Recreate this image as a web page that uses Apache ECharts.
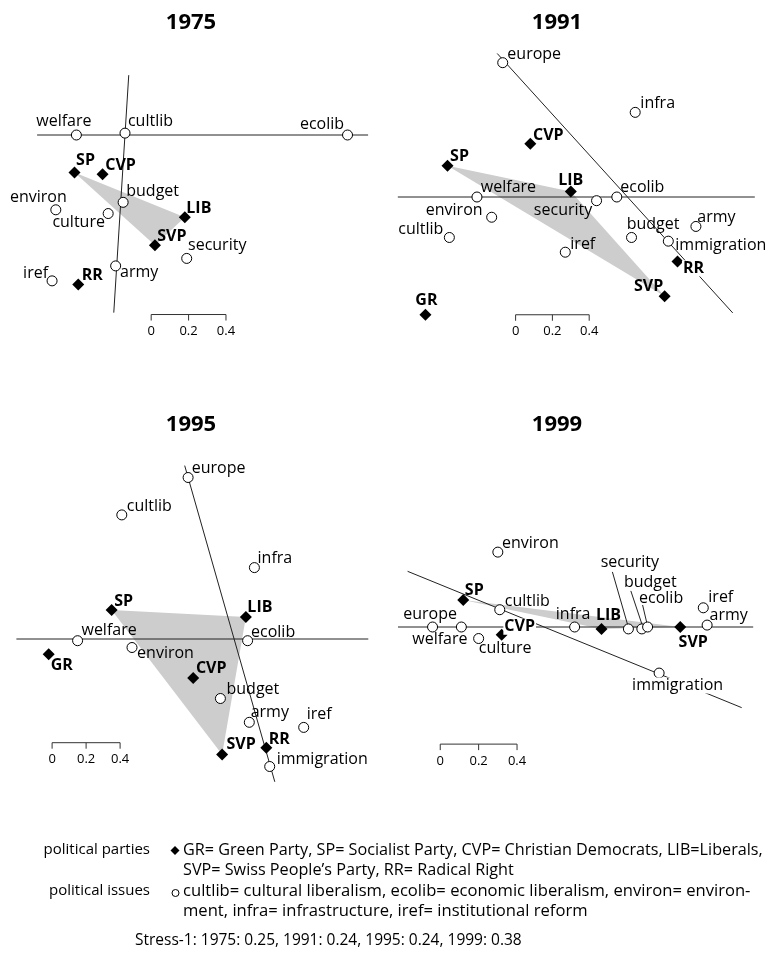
<!DOCTYPE html>
<html>
<head>
<meta charset="utf-8">
<title>Swiss party space 1975-1999</title>
<script src="https://cdn.jsdelivr.net/npm/echarts@6/dist/echarts.min.js"></script>
<style>
  html, body { margin: 0; padding: 0; background: #fff; }
  #chart { width: 771px; height: 956px; }
</style>
</head>
<body>
<div id="chart"></div>
<script>
// ---- data: MDS coordinates, in units of the scale bar ----
const years = ['1975', '1991', '1995', '1999']

const issues1975 = ['welfare', 'cultlib', 'ecolib', 'budget', 'environ', 'culture', 'security', 'army', 'iref']
const issueX1975 = [-0.26, 0.00, 1.19, -0.01, -0.37, -0.09, 0.33, -0.05, -0.39]
const issueY1975 = [0.00, 0.01, 0.00, -0.36, -0.40, -0.42, -0.66, -0.70, -0.78]
const parties1975 = ['SP', 'CVP', 'LIB', 'SVP', 'RR']
const partyX1975 = [-0.27, -0.12, 0.32, 0.16, -0.25]
const partyY1975 = [-0.20, -0.21, -0.44, -0.59, -0.80]
const hull1975 = ['SP', 'LIB', 'SVP']
const dimA1975 = [[-0.47, 0], [1.30, 0]]
const dimB1975 = [[0.02, 0.32], [-0.06, -0.95]]

const issues1991 = ['europe', 'infra', 'welfare', 'security', 'ecolib', 'environ', 'cultlib', 'budget', 'army', 'immigration', 'iref']
const issueX1991 = [-0.67, 0.05, -0.81, -0.16, -0.05, -0.73, -0.96, 0.03, 0.38, 0.23, -0.33]
const issueY1991 = [0.73, 0.46, 0.00, -0.02, 0.00, -0.11, -0.22, -0.22, -0.16, -0.24, -0.30]
const parties1991 = ['CVP', 'SP', 'LIB', 'RR', 'SVP', 'GR']
const partyX1991 = [-0.52, -0.97, -0.30, 0.28, 0.21, -1.09]
const partyY1991 = [0.29, 0.17, 0.03, -0.35, -0.54, -0.64]
const hull1991 = ['SP', 'LIB', 'SVP']
const dimA1991 = [[-1.24, 0], [0.70, 0]]
const dimB1991 = [[-0.70, 0.78], [0.58, -0.63]]

const issues1995 = ['europe', 'cultlib', 'infra', 'welfare', 'ecolib', 'environ', 'budget', 'army', 'iref', 'immigration']
const issueX1995 = [-0.27, -0.66, 0.12, -0.92, 0.08, -0.60, -0.08, 0.09, 0.41, 0.21]
const issueY1995 = [0.95, 0.73, 0.42, -0.01, -0.01, -0.05, -0.35, -0.49, -0.52, -0.75]
const parties1995 = ['SP', 'LIB', 'GR', 'CVP', 'SVP', 'RR']
const partyX1995 = [-0.72, 0.07, -1.09, -0.24, -0.07, 0.19]
const partyY1995 = [0.17, 0.13, -0.09, -0.23, -0.68, -0.64]
const hull1995 = ['SP', 'LIB', 'SVP']
const dimA1995 = [[-1.28, 0], [0.79, 0]]
const dimB1995 = [[-0.29, 1.02], [0.24, -0.84]]

const issues1999 = ['environ', 'cultlib', 'europe', 'welfare', 'culture', 'infra', 'security', 'budget', 'ecolib', 'iref', 'army', 'immigration']
const issueX1999 = [-0.23, -0.22, -0.57, -0.42, -0.33, 0.17, 0.45, 0.52, 0.55, 0.84, 0.86, 0.61]
const issueY1999 = [0.39, 0.09, 0.00, 0.00, -0.06, 0.00, -0.01, -0.01, 0.00, 0.10, 0.01, -0.24]
const parties1999 = ['SP', 'CVP', 'LIB', 'SVP']
const partyX1999 = [-0.41, -0.21, 0.31, 0.72]
const partyY1999 = [0.14, -0.04, -0.01, 0.00]
const hull1999 = ['SP', 'LIB', 'SVP']
const dimA1999 = [[-0.75, 0], [1.10, 0]]
const dimB1999 = [[-0.70, 0.29], [1.04, -0.42]]

const scaleTicks = [0, 0.2, 0.4]
const scaleTickLabels = ['0', '0.2', '0.4']
const stress = [0.25, 0.24, 0.24, 0.38]

// ---- layout / style ----
const FONT = '"Open Sans", "Noto Sans", sans-serif'
const layout = {
  '1975': { rect: [0, 40, 385, 300], origin: [125, 135], px: 187, title: [191, 23], bar: [0.14, -0.96] },
  '1991': { rect: [385, 40, 386, 300], origin: [626, 197], px: 184, title: [557, 23], bar: [-0.60, -0.64] },
  '1995': { rect: [0, 440, 385, 345], origin: [234, 639], px: 170, title: [191, 425], bar: [-1.07, -0.61] },
  '1999': { rect: [385, 440, 386, 345], origin: [542, 627], px: 192, title: [557, 425], bar: [-0.53, -0.61] }
}
// label centre offset from its point, in px
const labelOff = {
  '1975': { welfare: [-12, -13], cultlib: [26, -11], ecolib: [-25, -10], SP: [11, -12], CVP: [18, -9], budget: [30, -10],
    environ: [-17, -12], culture: [-29, 9], LIB: [14, -9], SVP: [17, -9], security: [31, -12], army: [24, 7], iref: [-16, -7], RR: [14, -9] },
  '1991': { europe: [32, -8], infra: [23, -8], CVP: [18, -8], SP: [12, -9], LIB: [0, -11], welfare: [32, -9], security: [-33, 10],
    ecolib: [26, -9], environ: [-37, -6], cultlib: [-28, -8], budget: [22, -13], army: [21, -9], immigration: [53, 5],
    iref: [18, -7], RR: [16, 7], SVP: [-16, -10], GR: [1, -14] },
  '1995': { europe: [31, -9], cultlib: [28, -8], infra: [21, -9], SP: [12, -9], LIB: [14, -9], welfare: [32, -10], ecolib: [26, -8],
    environ: [34, 6], GR: [13, 11], CVP: [18, -10], budget: [33, -9], army: [21, -9], iref: [16, -12], SVP: [19, -10],
    RR: [13, -8], immigration: [53, -7] },
  '1999': { environ: [33, -8], SP: [11, -10], cultlib: [28, -8], europe: [-2, -12], welfare: [-21, 13], culture: [27, 10],
    CVP: [18, -8], infra: [-1, -12], LIB: [7, -13], security: [2, -66], budget: [9, -46], ecolib: [14, -28], iref: [18, -10],
    army: [22, -9], SVP: [13, 15], immigration: [19, 13] }
}
const masked = { '1991': ['RR'], '1999': ['CVP', 'immigration'] }
const leaders = {
  '1999': { security: [[-16, -57], [-1, -5]], budget: [[-11, -38], [0, -5]], ecolib: [[-5, -22], [-1, -5]] }
}

const panelData = {
  '1975': { issues: issues1975, ix: issueX1975, iy: issueY1975, parties: parties1975, px: partyX1975, py: partyY1975, hull: hull1975, dims: [dimA1975, dimB1975] },
  '1991': { issues: issues1991, ix: issueX1991, iy: issueY1991, parties: parties1991, px: partyX1991, py: partyY1991, hull: hull1991, dims: [dimA1991, dimB1991] },
  '1995': { issues: issues1995, ix: issueX1995, iy: issueY1995, parties: parties1995, px: partyX1995, py: partyY1995, hull: hull1995, dims: [dimA1995, dimB1995] },
  '1999': { issues: issues1999, ix: issueX1999, iy: issueY1999, parties: parties1999, px: partyX1999, py: partyY1999, hull: hull1999, dims: [dimA1999, dimB1999] }
}

const grid = [], xAxis = [], yAxis = [], series = [], graphic = []

years.forEach((yr, i) => {
  const L = layout[yr], D = panelData[yr]
  const [left, top, w, h] = L.rect
  grid.push({ left: left, top: top, width: w, height: h })
  xAxis.push({ type: 'value', gridIndex: i, show: false, min: (left - L.origin[0]) / L.px, max: (left + w - L.origin[0]) / L.px })
  yAxis.push({ type: 'value', gridIndex: i, show: false, min: (L.origin[1] - top - h) / L.px, max: (L.origin[1] - top) / L.px })

  graphic.push({ type: 'text', x: L.title[0], y: L.title[1],
    style: { text: yr, align: 'center', verticalAlign: 'middle', font: 'bold 22px ' + FONT, fill: '#000' } })

  const pos = {}
  D.parties.forEach((p, k) => { pos[p] = [D.px[k], D.py[k]] })
  D.issues.forEach((p, k) => { pos[p] = [D.ix[k], D.iy[k]] })

  // shaded polygon
  const hullPts = D.hull.map(p => pos[p])
  series.push({
    type: 'custom', xAxisIndex: i, yAxisIndex: i, silent: true, z: 1, data: [0],
    renderItem: (params, api) => ({
      type: 'polygon', shape: { points: hullPts.map(p => api.coord(p)) }, style: { fill: '#cdcdcd' }
    })
  })

  // dimension lines
  D.dims.forEach(d => {
    series.push({
      type: 'line', xAxisIndex: i, yAxisIndex: i, silent: true, z: 2, data: d, symbol: 'none',
      lineStyle: { color: '#222', width: 1 }, animation: false
    })
  })

  // leader lines
  const ld = leaders[yr]
  if (ld) {
    series.push({
      type: 'custom', xAxisIndex: i, yAxisIndex: i, silent: true, z: 2, data: [0],
      renderItem: (params, api) => ({
        type: 'group',
        children: Object.keys(ld).map(n => {
          const c = api.coord(pos[n])
          return { type: 'line', shape: { x1: c[0] + ld[n][0][0], y1: c[1] + ld[n][0][1], x2: c[0] + ld[n][1][0], y2: c[1] + ld[n][1][1] },
            style: { stroke: '#222', lineWidth: 1 } }
        })
      })
    })
  }

  const mk = (names, xs, ys, size, bold) => names.map((n, k) => {
    const o = labelOff[yr][n] || [0, -12]
    const m = (masked[yr] || []).indexOf(n) >= 0
    return {
      name: n, value: [xs[k], ys[k]],
      label: {
        show: true, formatter: n, position: [size / 2 + o[0], size / 2 + o[1]], align: 'center', verticalAlign: 'middle',
        fontSize: 16, fontFamily: FONT, fontWeight: bold ? 'bold' : 'normal', color: '#000',
        backgroundColor: m ? '#fff' : 'transparent', padding: m ? [0, 1] : 0
      }
    }
  })

  series.push({
    type: 'scatter', xAxisIndex: i, yAxisIndex: i, silent: true, z: 3, symbol: 'circle', symbolSize: 10,
    itemStyle: { color: '#fff', borderColor: '#000', borderWidth: 1, opacity: 1 },
    data: mk(D.issues, D.ix, D.iy, 10, false)
  })
  series.push({
    type: 'scatter', xAxisIndex: i, yAxisIndex: i, silent: true, z: 3, symbol: 'diamond', symbolSize: 12,
    itemStyle: { color: '#000', opacity: 1 },
    data: mk(D.parties, D.px, D.py, 12, true)
  })

  // scale bar
  const bar = L.bar
  series.push({
    type: 'custom', xAxisIndex: i, yAxisIndex: i, silent: true, z: 3, data: [0],
    renderItem: (params, api) => {
      const p0 = api.coord(bar)
      const p1 = api.coord([bar[0] + scaleTicks[scaleTicks.length - 1], bar[1]])
      const kids = [{ type: 'line', shape: { x1: p0[0], y1: p0[1], x2: p1[0], y2: p1[1] }, style: { stroke: '#333', lineWidth: 1 } }]
      scaleTicks.forEach((t, k) => {
        const p = api.coord([bar[0] + t, bar[1]])
        kids.push({ type: 'line', shape: { x1: p[0], y1: p[1], x2: p[0], y2: p[1] + 6 }, style: { stroke: '#333', lineWidth: 1 } })
        kids.push({ type: 'text', style: { text: scaleTickLabels[k], x: p[0], y: p[1] + 17, align: 'center', verticalAlign: 'middle',
          font: '13px ' + FONT, fill: '#000' } })
      })
      return { type: 'group', children: kids }
    }
  })
})

// ---- key below the panels ----
const txt = (s, x, y, size, align) => ({ type: 'text', x: x, y: y,
  style: { text: s, align: align || 'left', verticalAlign: 'middle', font: size + 'px ' + FONT, fill: '#000' } })
graphic.push(
  txt('political parties', 150, 850, 15, 'right'),
  { type: 'polygon', shape: { points: [[175, 846], [179.5, 850.5], [175, 855], [170.5, 850.5]] }, style: { fill: '#000' } },
  txt('GR= Green Party, SP= Socialist Party, CVP= Christian Democrats, LIB=Liberals,', 183, 850, 16.2),
  txt('SVP= Swiss People\u2019s Party, RR= Radical Right', 183, 870, 16.2),
  txt('political issues', 150, 891, 15, 'right'),
  { type: 'circle', shape: { cx: 175.5, cy: 893, r: 3.5 }, style: { fill: '#fff', stroke: '#000', lineWidth: 1 } },
  txt('cultlib= cultural liberalism, ecolib= economic liberalism, environ= environ-', 183, 891, 16.6),
  txt('ment, infra= infrastructure, iref= institutional reform', 183, 911, 16.6),
  txt('Stress-1: ' + years.map((y, k) => y + ': ' + stress[k].toFixed(2)).join(', '), 135, 941, 15.5)
)

const chart = echarts.init(document.getElementById('chart'))
chart.setOption({
  animation: false,
  backgroundColor: '#fff',
  grid: grid,
  xAxis: xAxis,
  yAxis: yAxis,
  series: series,
  graphic: graphic
})
</script>
</body>
</html>
